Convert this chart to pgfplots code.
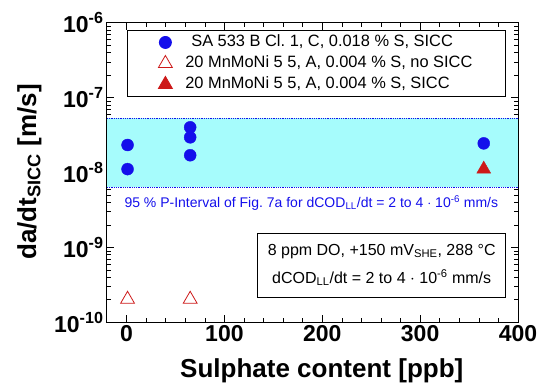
\documentclass[border=0pt]{standalone}
\usepackage{fontspec}
\setmainfont{Liberation Sans}
\usepackage{pgfplots}
\pgfplotsset{compat=1.18}
\definecolor{bandc}{RGB}{166,252,252}
\definecolor{ptblue}{RGB}{20,15,235}
\definecolor{ptred}{RGB}{205,25,25}
\frenchspacing
\begin{document}
\begin{tikzpicture}
\begin{axis}[
  scale only axis, width=411pt, height=299.6pt,
  ymode=log, xmin=-20, xmax=400, ymin=1e-10, ymax=1e-6,
  xtick={0,100,200,300,400}, minor x tick num=4,
  ytick={1e-10,1e-9,1e-8,1e-7,1e-6},
  yticklabels={10\textsuperscript{-10},10\textsuperscript{-9},10\textsuperscript{-8},10\textsuperscript{-7},10\textsuperscript{-6}},
  tick align=inside, tick pos=both,
  major tick length=7pt, minor tick length=4pt,
  /pgf/number format/assume math mode=true,
  xticklabel style={font=\fontsize{23}{23}\selectfont\bfseries},
  yticklabel style={font=\fontsize{23}{23}\selectfont\bfseries},
  xlabel={Sulphate content [ppb]},
  ylabel={da/dt\textsubscript{SICC} [m/s]},
  label style={font=\fontsize{26}{26}\selectfont\bfseries},
  xlabel style={at={(axis description cs:0.5226,0)}, anchor=center, yshift=-48pt},
  ylabel style={at={(axis description cs:-0.1886,0.5017)}, anchor=center},
  axis line style={line width=1pt},
  every tick/.style={line width=0.6pt, black},
  legend style={at={(axis description cs:0.0487,0.9756)}, anchor=north west,
    font=\fontsize{16.4}{19}\selectfont,
    draw=black, line width=0.9pt, inner xsep=31pt, inner ysep=2pt, row sep=1pt, column sep=11pt,
    nodes={inner sep=2pt, text height=12pt, text depth=4pt}},
  legend cell align=left,
]
\addplot[fill=bandc, draw=none, forget plot] coordinates {(-20,6.34e-9) (400,6.34e-9) (400,5.3e-8) (-20,5.3e-8)} -- cycle;
\addplot[ptblue, densely dotted, line width=0.8pt, forget plot] coordinates {(-20,6.34e-9) (400,6.34e-9)};
\addplot[ptblue, densely dotted, line width=0.8pt, forget plot] coordinates {(-20,5.3e-8) (400,5.3e-8)};
\addplot[only marks, mark=*, mark size=6pt, color=ptblue, mark options={fill=ptblue, draw=ptblue}] coordinates {
(1,2.33e-8) (1,1.11e-8) (65,4.01e-8) (65,2.95e-8) (65,1.70e-8) (365,2.45e-8)};
\addlegendentry{\hspace{6pt}SA 533 B Cl.\ 1, C, 0.018 \% S, SICC}
\addplot[only marks, mark=triangle, mark size=8pt, color=ptred, mark options={draw=ptred, line width=0.8pt}] coordinates {
(1,2.03e-10) (65,2.03e-10)};
\addlegendentry{20 MnMoNi 5 5, A, 0.004 \% S, no SICC}
\addplot[only marks, mark=triangle*, mark size=8pt, color=ptred, mark options={fill=ptred, draw=ptred}] coordinates {
(365,1.11e-8)};
\addlegendentry{20 MnMoNi 5 5, A, 0.004 \% S, SICC}
\node[font=\fontsize{14}{14}\selectfont, text=ptblue] at (axis cs:188.8,3.92e-9) {95 \% P-Interval of Fig.\ 7a for dCOD\textsubscript{LL}/dt = 2 to 4 $\cdot$ 10\textsuperscript{-6} mm/s};
\node[draw=black, line width=0.9pt, font=\fontsize{16}{19}\selectfont, align=center, minimum width=248.5pt, minimum height=64pt, anchor=center] at (axis cs:260.7,5.82e-10)
 {8 ppm DO, +150 mV\textsubscript{SHE}, 288 °C\\[9pt] dCOD\textsubscript{LL}/dt = 2 to 4 $\cdot$ 10\textsuperscript{-6} mm/s};
\end{axis}
\pgfresetboundingbox
\path ([shift={(-107pt,-68.7pt)}]current axis.south west) rectangle ([shift={(27pt,22.7pt)}]current axis.north east);
\end{tikzpicture}
\end{document}
